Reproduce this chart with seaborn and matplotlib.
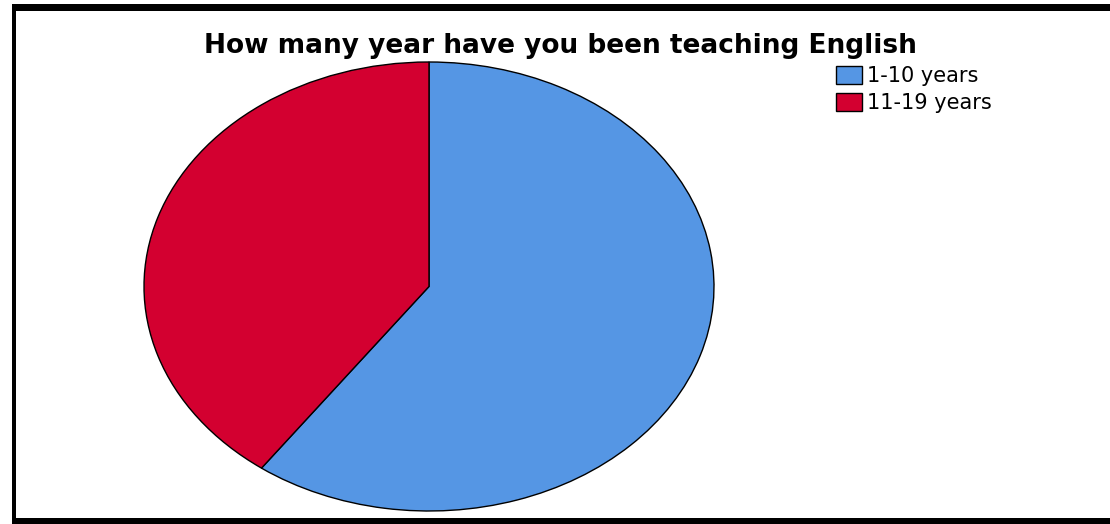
import matplotlib
matplotlib.use("Agg")
import matplotlib.pyplot as plt
from matplotlib.patches import Rectangle
import seaborn as sns

# Years of English teaching experience (share of respondents)
categories = ["1-10 years", "11-19 years"]
shares = [60, 40]
colors = ["#5596E4", "#D30030"]

sns.set_theme(style="white")
plt.rcParams["font.family"] = ["DejaVu Sans"]

W, H = 1110, 524
fig = plt.figure(figsize=(W / 100, H / 100), dpi=100)
fig.patch.set_facecolor("white")

# Elliptical pie: axes box spans the ellipse bounds, aspect left free
left, right, top, bottom = 144, 714, 62, 511
ax = fig.add_axes([left / W, 1 - bottom / H, (right - left) / W, (bottom - top) / H])
wedges, _ = ax.pie(
    shares,
    colors=colors,
    startangle=90,
    counterclock=False,
    wedgeprops=dict(edgecolor="black", linewidth=1.0),
)
ax.set_aspect("auto")
ax.set_xlim(-1.0, 1.0)
ax.set_ylim(-1.0, 1.0)
ax.axis("off")

fig.text(560 / W, 1 - 53 / H, "How many year have you been teaching English",
         ha="center", va="baseline", fontsize=19, fontweight="bold", color="black")

fig.legend(wedges, categories, loc="upper left",
           bbox_to_anchor=(828 / W, 1 - 58 / H), frameon=False,
           fontsize=15, labelcolor="black", handlelength=1.25, handleheight=0.95,
           handletextpad=0.2, labelspacing=0.3, borderaxespad=0)

# Black frame around the chart (left, top and bottom bands)
frame_color = "black"
fig.add_artist(Rectangle((12 / W, 1 - 524 / H), 4 / W, 520 / H,
                         transform=fig.transFigure, color=frame_color, lw=0))
fig.add_artist(Rectangle((12 / W, 1 - 11 / H), (W - 12) / W, 7 / H,
                         transform=fig.transFigure, color=frame_color, lw=0))
fig.add_artist(Rectangle((12 / W, 0), (W - 12) / W, 6 / H,
                         transform=fig.transFigure, color=frame_color, lw=0))

fig.savefig("out.png", dpi=100, facecolor="white")
